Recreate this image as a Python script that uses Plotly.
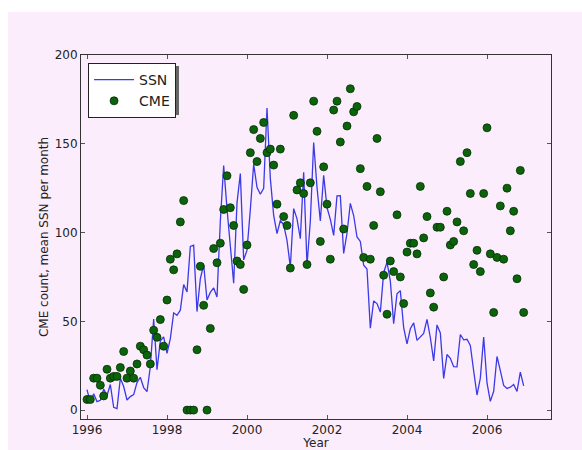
import plotly.graph_objects as go

# Monthly series, January 1996 to December 2006
start_year = 1996
n_months = 132

ssn = [
    11.5, 4.4, 9.2, 4.8, 5.5, 11.8, 8.2, 14.4, 1.6, 0.9, 17.9, 13.3,
    5.7, 7.6, 8.7, 15.5, 18.5, 12.7, 10.4, 24.4, 51.3, 22.8, 39.0, 41.2,
    31.9, 40.3, 54.8, 53.4, 56.3, 70.7, 66.6, 92.2, 92.9, 55.5, 74.0, 81.9,
    62.0, 66.3, 68.8, 63.7, 106.4, 137.7, 113.5, 93.7, 71.5, 116.7, 133.2, 84.6,
    90.1, 112.9, 138.5, 125.5, 121.6, 124.9, 170.1, 130.5, 109.7, 99.4, 106.8, 104.4,
    95.6, 80.6, 113.5, 107.7, 96.6, 134.0, 81.8, 106.4, 150.7, 125.5, 106.5, 132.2,
    114.1, 107.4, 98.4, 120.7, 120.8, 88.3, 99.6, 116.4, 109.6, 97.5, 95.0, 81.6,
    79.5, 46.2, 61.5, 60.0, 55.2, 77.4, 83.3, 72.7, 48.7, 65.5, 67.3, 46.5,
    37.3, 45.8, 49.1, 39.3, 41.5, 43.2, 51.1, 40.9, 27.7, 48.0, 43.5, 17.9,
    31.3, 29.2, 24.5, 24.4, 42.6, 39.6, 39.9, 36.4, 22.1, 8.5, 18.0, 41.2,
    15.3, 4.9, 10.6, 30.2, 22.3, 13.9, 12.2, 12.9, 14.4, 10.5, 21.4, 13.6,
]

cme = [
    6, 6, 18, 18, 14, 8, 23, 18, 19, 19, 24, 33,
    18, 22, 18, 26, 36, 34, 31, 26, 45, 41, 51, 36,
    62, 85, 79, 88, 106, 118, 0, 0, 0, 34, 81, 59,
    0, 46, 91, 83, 94, 113, 132, 114, 104, 84, 82, 68,
    93, 145, 158, 140, 153, 162, 145, 147, 138, 116, 147, 109,
    104, 80, 166, 124, 128, 122, 82, 128, 174, 157, 95, 137,
    116, 85, 169, 174, 151, 102, 160, 181, 168, 171, 136, 86,
    126, 85, 104, 153, 123, 76, 54, 84, 78, 110, 75, 60,
    89, 94, 94, 88, 126, 97, 109, 66, 58, 103, 103, 75,
    112, 93, 95, 106, 140, 101, 145, 122, 82, 90, 78, 122,
    159, 88, 55, 86, 115, 85, 125, 101, 112, 74, 135, 55,
]

x_ticks = [1996, 1998, 2000, 2002, 2004, 2006]
y_ticks = [0, 50, 100, 150, 200]

months = [start_year + m / 12 for m in range(n_months)]

BG = "#fcedfc"
FONT = "DejaVu Sans"
TXT = "#222222"

fig = go.Figure()
fig.add_trace(go.Scatter(
    x=months, y=ssn, mode="lines", name="SSN",
    line=dict(color="#3a3ae6", width=1.3),
))
fig.add_trace(go.Scatter(
    x=months, y=cme, mode="markers", name="CME",
    marker=dict(color="#0b640b", size=8, line=dict(color="#042e04", width=0.8)),
))

axis_common = dict(
    showline=True, linecolor="#333333", linewidth=1, mirror="ticks",
    ticks="inside", ticklen=4, tickcolor="#555555", showgrid=False,
    zeroline=False, automargin=False,
    tickfont=dict(family=FONT, size=12, color=TXT),
)

fig.update_xaxes(
    range=[1995.85, 2007.6], tickvals=x_ticks, ticktext=[str(v) for v in x_ticks],
    title=dict(text="Year", font=dict(family=FONT, size=12, color=TXT), standoff=1),
    **axis_common,
)
fig.update_yaxes(
    range=[-5, 200], tickvals=y_ticks, ticktext=[str(v) for v in y_ticks],
    title=dict(text="CME count, mean SSN per month",
               font=dict(family=FONT, size=12, color=TXT), standoff=3),
    **axis_common,
)

# tinted backdrop with a white strip along the top and left edges
fig.add_shape(type="rect", xref="paper", yref="paper",
              x0=-0.1553, x1=1.07, y0=-0.09, y1=1.118,
              fillcolor=BG, line=dict(width=0), layer="below")

# drop shadow behind the legend box
fig.add_shape(type="rect", xref="paper", yref="paper",
              x0=0.021, x1=0.2085, y0=0.835, y1=0.9698,
              fillcolor="#666666", line=dict(width=0), layer="above")

fig.update_layout(
    width=582, height=450,
    margin=dict(l=81, r=31, t=55, b=31),
    paper_bgcolor="white", plot_bgcolor=BG,
    font=dict(family=FONT, color=TXT),
    showlegend=True,
    legend=dict(
        x=0.015, y=0.978, xanchor="left", yanchor="top",
        bgcolor="white", bordercolor=TXT, borderwidth=1,
        font=dict(family=FONT, size=14, color=TXT),
        itemwidth=40, tracegroupgap=0,
    ),
)

fig.write_html("out.html")
